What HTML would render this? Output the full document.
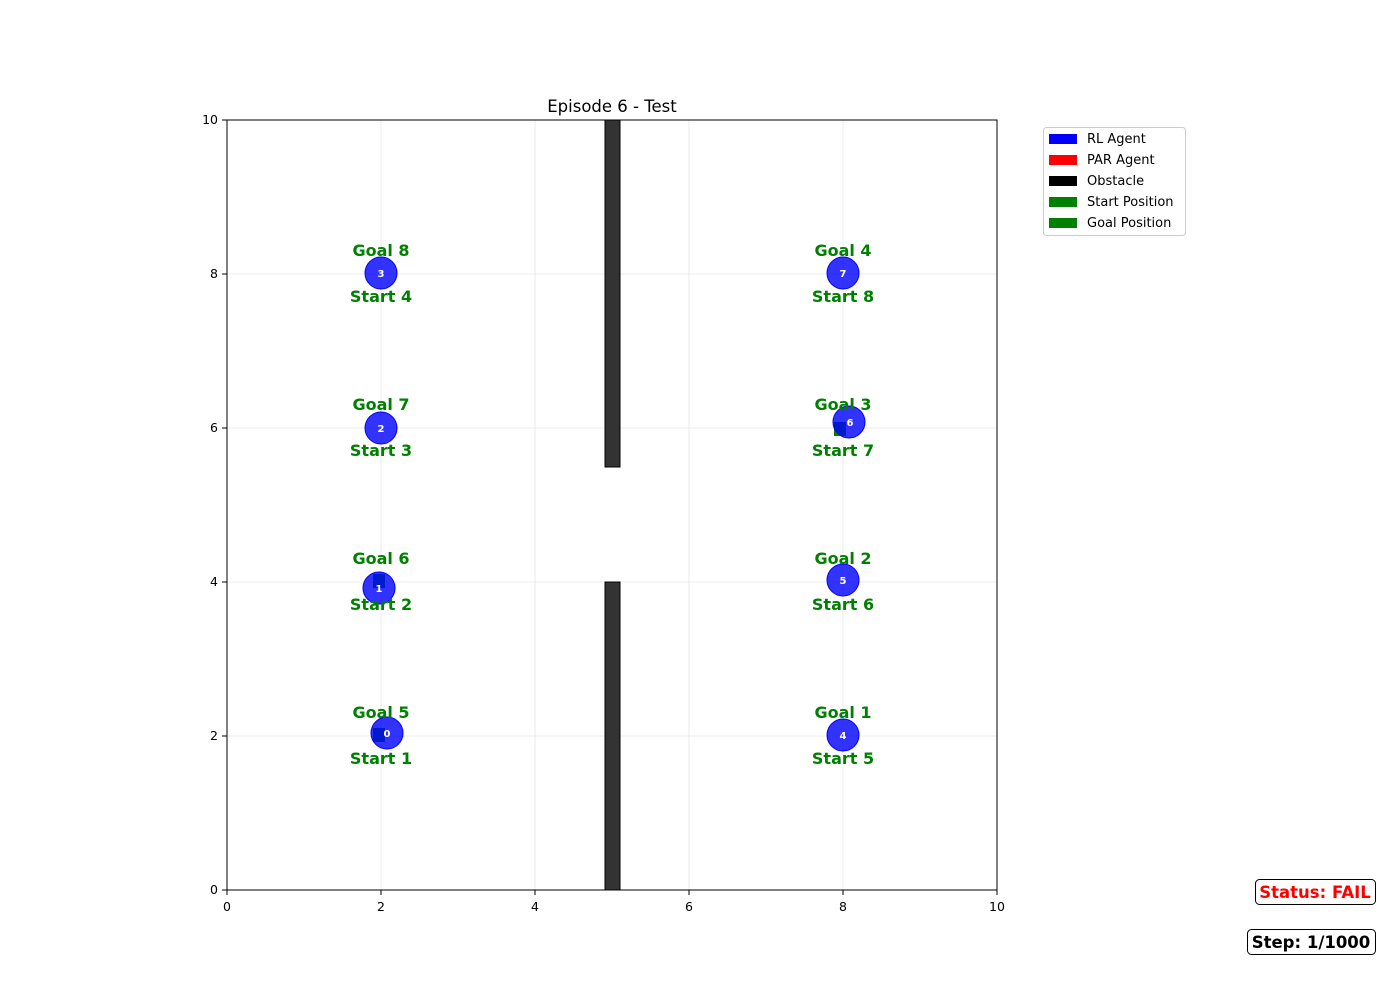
<!DOCTYPE html>
<html><head><style>body{margin:0;background:#fff}svg{display:block}</style></head><body>
<svg width="1400" height="1000" xmlns="http://www.w3.org/2000/svg" font-family="DejaVu Sans, Liberation Sans, sans-serif">
<rect width="1400" height="1000" fill="#fff"/>
<g stroke="#e6e6e6" stroke-width="0.8">
<line x1="381" y1="120" x2="381" y2="890"/><line x1="535" y1="120" x2="535" y2="890"/><line x1="689" y1="120" x2="689" y2="890"/><line x1="843" y1="120" x2="843" y2="890"/>
<line x1="227" y1="736" x2="997" y2="736"/><line x1="227" y1="582" x2="997" y2="582"/><line x1="227" y1="428" x2="997" y2="428"/><line x1="227" y1="274" x2="997" y2="274"/>
</g>
<rect x="605" y="120" width="15" height="347" fill="#333" stroke="#000" stroke-width="1"/>
<rect x="605" y="582" width="15" height="308" fill="#333" stroke="#000" stroke-width="1"/>
<g fill="#008000">
<rect x="373" y="728" width="12" height="14"/><rect x="373" y="574" width="12" height="14"/><rect x="834" y="422" width="12" height="14"/>
</g>
<g fill="#0000ff" fill-opacity="0.8" stroke="#0000ff">
<circle cx="387" cy="733" r="16"/><circle cx="379" cy="588" r="16"/><circle cx="381" cy="428" r="16"/><circle cx="381" cy="273" r="16"/>
<circle cx="843" cy="735" r="16"/><circle cx="843" cy="580" r="16"/><circle cx="849" cy="422" r="16"/><circle cx="843" cy="273" r="16"/>
</g>
<g fill="#fff" font-size="10" font-weight="bold" text-anchor="middle">
<text x="387" y="737">0</text><text x="379" y="592">1</text><text x="381" y="432">2</text><text x="381" y="277">3</text>
<text x="843" y="739">4</text><text x="843" y="584">5</text><text x="850" y="426">6</text><text x="843" y="277">7</text>
</g>
<g fill="#008000" font-size="16" font-weight="bold" text-anchor="middle">
<text x="381" y="256">Goal 8</text><text x="381" y="302">Start 4</text>
<text x="381" y="410">Goal 7</text><text x="381" y="456">Start 3</text>
<text x="381" y="564">Goal 6</text><text x="381" y="610">Start 2</text>
<text x="381" y="718">Goal 5</text><text x="381" y="764">Start 1</text>
<text x="843" y="256">Goal 4</text><text x="843" y="302">Start 8</text>
<text x="843" y="410">Goal 3</text><text x="843" y="456">Start 7</text>
<text x="843" y="564">Goal 2</text><text x="843" y="610">Start 6</text>
<text x="843" y="718">Goal 1</text><text x="843" y="764">Start 5</text>
</g>
<rect x="227" y="120" width="770" height="770" fill="none" stroke="#000" stroke-width="1"/>
<g stroke="#000"><line x1="227" y1="890" x2="227" y2="895"/><line x1="381" y1="890" x2="381" y2="895"/><line x1="535" y1="890" x2="535" y2="895"/><line x1="689" y1="890" x2="689" y2="895"/><line x1="843" y1="890" x2="843" y2="895"/><line x1="997" y1="890" x2="997" y2="895"/>
<line x1="222" y1="890" x2="227" y2="890"/><line x1="222" y1="736" x2="227" y2="736"/><line x1="222" y1="582" x2="227" y2="582"/><line x1="222" y1="428" x2="227" y2="428"/><line x1="222" y1="274" x2="227" y2="274"/><line x1="222" y1="120" x2="227" y2="120"/></g>
<g font-size="12.5" fill="#000" text-anchor="middle">
<text x="227" y="911">0</text><text x="381" y="911">2</text><text x="535" y="911">4</text><text x="689" y="911">6</text><text x="843" y="911">8</text><text x="997" y="911">10</text>
</g>
<g font-size="12.5" fill="#000" text-anchor="end">
<text x="218" y="894">0</text><text x="218" y="740">2</text><text x="218" y="586">4</text><text x="218" y="432">6</text><text x="218" y="278">8</text><text x="218" y="124">10</text>
</g>
<text x="612" y="112" font-size="16.5" text-anchor="middle">Episode 6 - Test</text>
<rect x="1043.5" y="127.5" width="142" height="108" rx="3" fill="#fff" stroke="#ccc"/>
<rect x="1049" y="134" width="28" height="10" fill="#0000ff"/><rect x="1049" y="155" width="28" height="10" fill="#ff0000"/><rect x="1049" y="176" width="28" height="10" fill="#000"/><rect x="1049" y="197" width="28" height="10" fill="#008000"/><rect x="1049" y="218" width="28" height="10" fill="#008000"/>
<g font-size="13" fill="#000"><text x="1087" y="143">RL Agent</text><text x="1087" y="164">PAR Agent</text><text x="1087" y="185">Obstacle</text><text x="1087" y="206">Start Position</text><text x="1087" y="227">Goal Position</text></g>
<rect x="1255.5" y="879.5" width="120" height="25" rx="4" fill="#fff" stroke="#000"/>
<text x="1315" y="898" font-size="16.5" font-weight="bold" fill="#ff0000" text-anchor="middle">Status: FAIL</text>
<rect x="1247.5" y="929.5" width="128" height="25" rx="4" fill="#fff" stroke="#000"/>
<text x="1311" y="948" font-size="16.5" font-weight="bold" fill="#000" text-anchor="middle">Step: 1/1000</text>
</svg>
</body></html>
